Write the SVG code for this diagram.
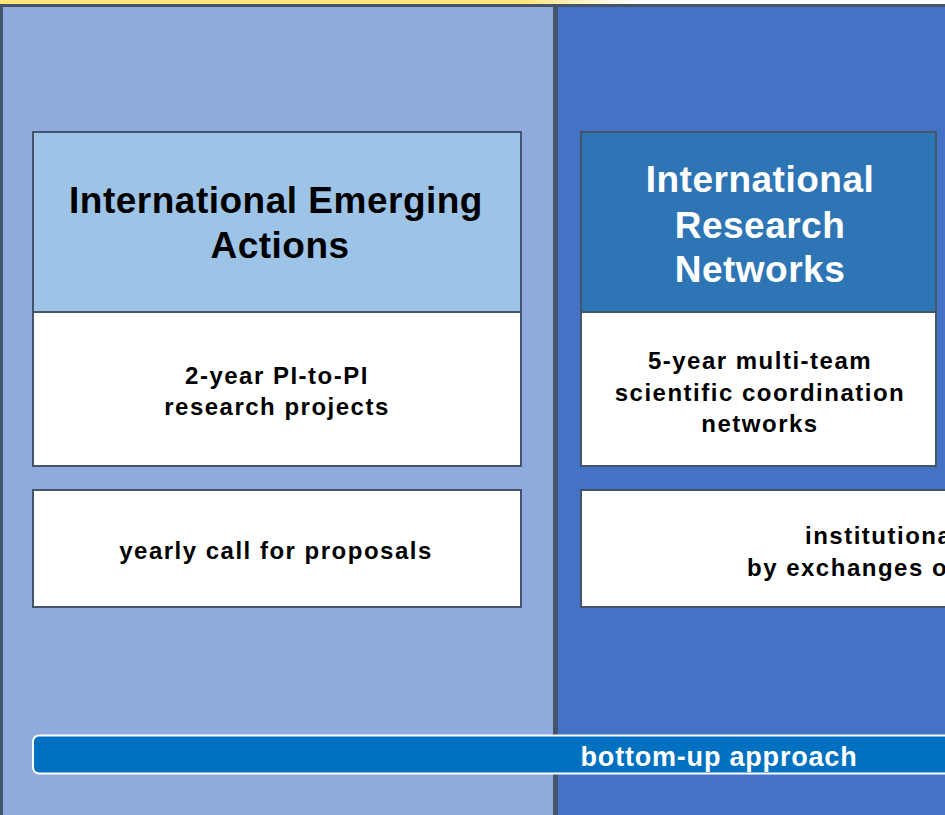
<svg xmlns="http://www.w3.org/2000/svg" width="945" height="815" viewBox="0 0 945 815">
<defs>
<linearGradient id="topfade" x1="0" y1="0" x2="1" y2="0">
<stop offset="0" stop-color="#FFE676"/>
<stop offset="0.55" stop-color="#FFE676"/>
<stop offset="0.67" stop-color="#FFFFFF"/>
<stop offset="1" stop-color="#FFFFFF"/>
</linearGradient>
<style>
.col{stroke:#44546A;stroke-width:3}
.box{stroke:#44546A;stroke-width:2}
.hd{font-family:"Liberation Sans",Arial,sans-serif;font-weight:bold;font-size:37px;letter-spacing:0.5px;text-anchor:middle}
.bd{font-family:"Liberation Sans",Arial,sans-serif;font-weight:bold;font-size:24px;letter-spacing:1.5px;fill:#000}
.mid{text-anchor:middle}
</style>
</defs>
<rect x="0" y="0" width="945" height="6" fill="url(#topfade)"/>
<rect x="0" y="4" width="945" height="1" fill="#D0D0D0"/>
<g id="col-left"><rect class="col" x="1.5" y="5.5" width="553" height="820" fill="#8FAADC"/></g>
<g id="col-right"><rect class="col" x="556.5" y="5.5" width="400" height="820" fill="#4472C4"/></g>
<g id="iea-header">
<rect class="box" x="33" y="132" width="488" height="180" fill="#9DC3E6"/>
<text class="hd" x="276" y="213" fill="#000">International Emerging</text>
<text class="hd" x="280" y="258" fill="#000">Actions</text>
</g>
<g id="iea-desc">
<rect class="box" x="33" y="312" width="488" height="154" fill="#FFFFFF"/>
<text class="bd mid" x="277" y="384">2-year PI-to-PI</text>
<text class="bd mid" x="277" y="415">research projects</text>
</g>
<g id="iea-call">
<rect class="box" x="33" y="490" width="488" height="117" fill="#FFFFFF"/>
<text class="bd mid" x="276" y="559">yearly call for proposals</text>
</g>
<g id="irn-header">
<rect class="box" x="581" y="132" width="355" height="180" fill="#2E75B6"/>
<text class="hd" x="760" y="192" fill="#FFFFFF">International</text>
<text class="hd" x="760" y="238" fill="#FFFFFF">Research</text>
<text class="hd" x="760" y="282" fill="#FFFFFF">Networks</text>
</g>
<g id="irn-desc">
<rect class="box" x="581" y="312" width="355" height="154" fill="#FFFFFF"/>
<text class="bd mid" x="760" y="369">5-year multi-team</text>
<text class="bd mid" x="760" y="401">scientific coordination</text>
<text class="bd mid" x="760" y="432">networks</text>
</g>
<g id="irn-support">
<rect class="box" x="581" y="490" width="380" height="117" fill="#FFFFFF"/>
<text class="bd" x="805" y="544">institutiona</text>
<text class="bd" x="747" y="576">by exchanges o</text>
</g>
<g id="bottom-bar">
<rect x="33" y="735.5" width="940" height="38" rx="6" ry="6" fill="#0070C0" stroke="#FFFFFF" stroke-width="2"/>
<text x="719" y="766" fill="#FFFFFF" font-family="'Liberation Sans',Arial,sans-serif" font-weight="bold" font-size="27" letter-spacing="0.8" text-anchor="middle">bottom-up approach</text>
</g>
<g id="connectors"></g>
</svg>
